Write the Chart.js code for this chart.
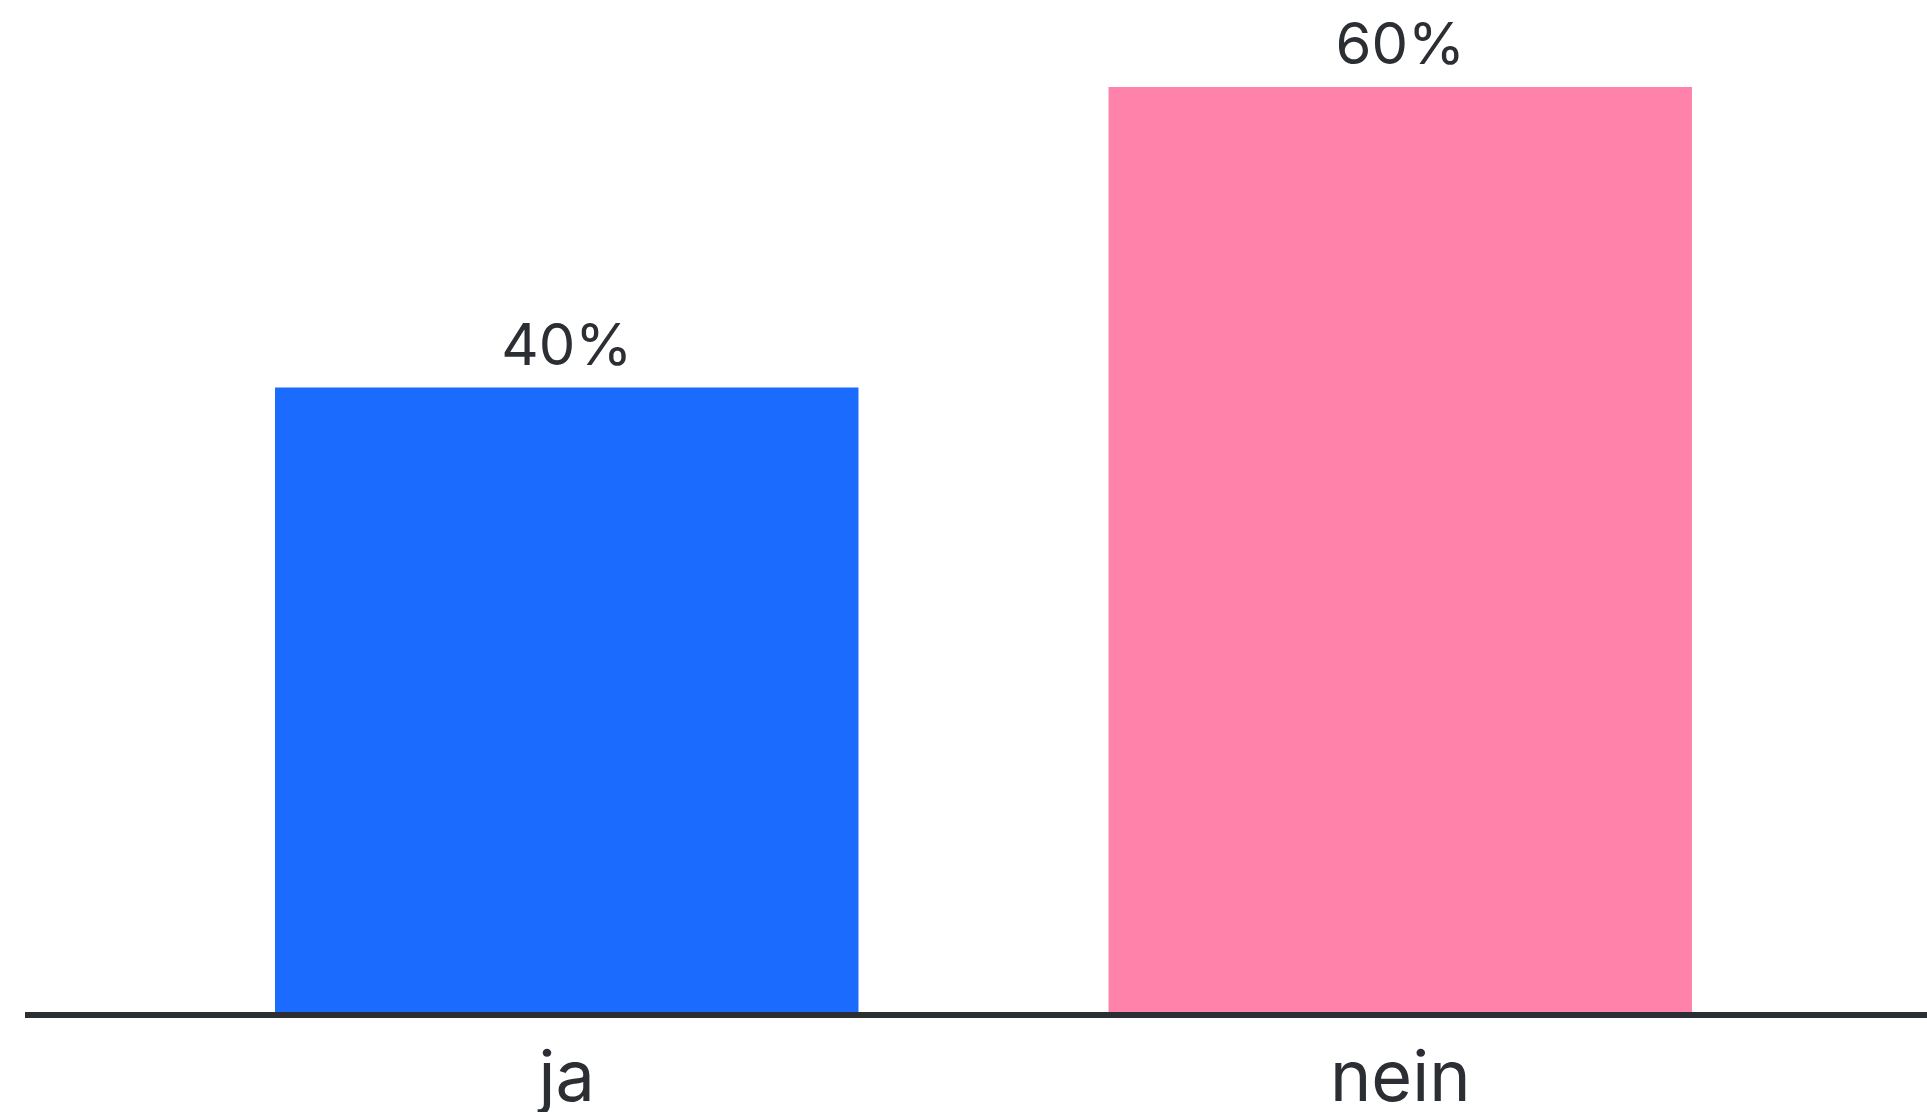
<!DOCTYPE html>
<html lang="de">
    <head>
        <meta charset="utf-8" />
        <script src="https://cdn.jsdelivr.net/npm/chart.js@4.4.1/dist/chart.umd.min.js"></script>
        <title>ja / nein</title>
        <style>
            body { margin: 0; background: #fff; }
            canvas { display: block; }
        </style>
    </head>
    <body>
        <canvas id="grafico" width="1927" height="1112"></canvas>
        <script>
            // datos
            const categorias = ["ja", "nein"];
            const valores = [40.3, 59.7];
            const colores = ["#1b6bff", "#ff82aa"];

            const tinta = "#2b2e33";
            const fuente = "Inter, 'Noto Sans', sans-serif";

            // línea base que cruza todo el ancho
            const lineaBase = {
                id: "lineaBase",
                afterDatasetsDraw(chart) {
                    const ctx = chart.ctx;
                    const y = chart.scales.y.getPixelForValue(0) + 3;
                    ctx.save();
                    ctx.strokeStyle = tinta;
                    ctx.lineWidth = 6;
                    ctx.beginPath();
                    ctx.moveTo(25, y);
                    ctx.lineTo(chart.width, y);
                    ctx.stroke();
                    ctx.restore();
                }
            };

            // etiquetas de porcentaje sobre las barras
            const etiquetas = {
                id: "etiquetas",
                afterDatasetsDraw(chart) {
                    const ctx = chart.ctx;
                    const meta = chart.getDatasetMeta(0);
                    ctx.save();
                    ctx.fillStyle = tinta;
                    ctx.font = "400 58px " + fuente;
                    ctx.textAlign = "center";
                    ctx.textBaseline = "alphabetic";
                    meta.data.forEach((barra, i) => {
                        ctx.fillText(Math.round(valores[i]) + "%", barra.x, barra.y - 23);
                    });
                    ctx.restore();
                }
            };

            new Chart(document.getElementById("grafico").getContext("2d"), {
                type: "bar",
                data: {
                    labels: categorias,
                    datasets: [{ data: valores, backgroundColor: colores, barPercentage: 0.7, categoryPercentage: 1 }]
                },
                options: {
                    responsive: false,
                    animation: false,
                    devicePixelRatio: 1,
                    layout: { padding: { top: 87, left: 150, right: 110, bottom: 0 } },
                    plugins: { legend: { display: false }, tooltip: { enabled: false } },
                    scales: {
                        x: {
                            offset: true,
                            grid: { display: false, drawTicks: false },
                            border: { display: false },
                            ticks: { color: tinta, font: { family: fuente, size: 70 }, padding: 26 },
                            // alto fijo del eje para que la base quede donde en el original
                            afterFit(eje) { eje.height = 100; }
                        },
                        y: { display: false, min: 0, max: 59.7 }
                    }
                },
                plugins: [lineaBase, etiquetas]
            });
        </script>
    </body>
</html>
